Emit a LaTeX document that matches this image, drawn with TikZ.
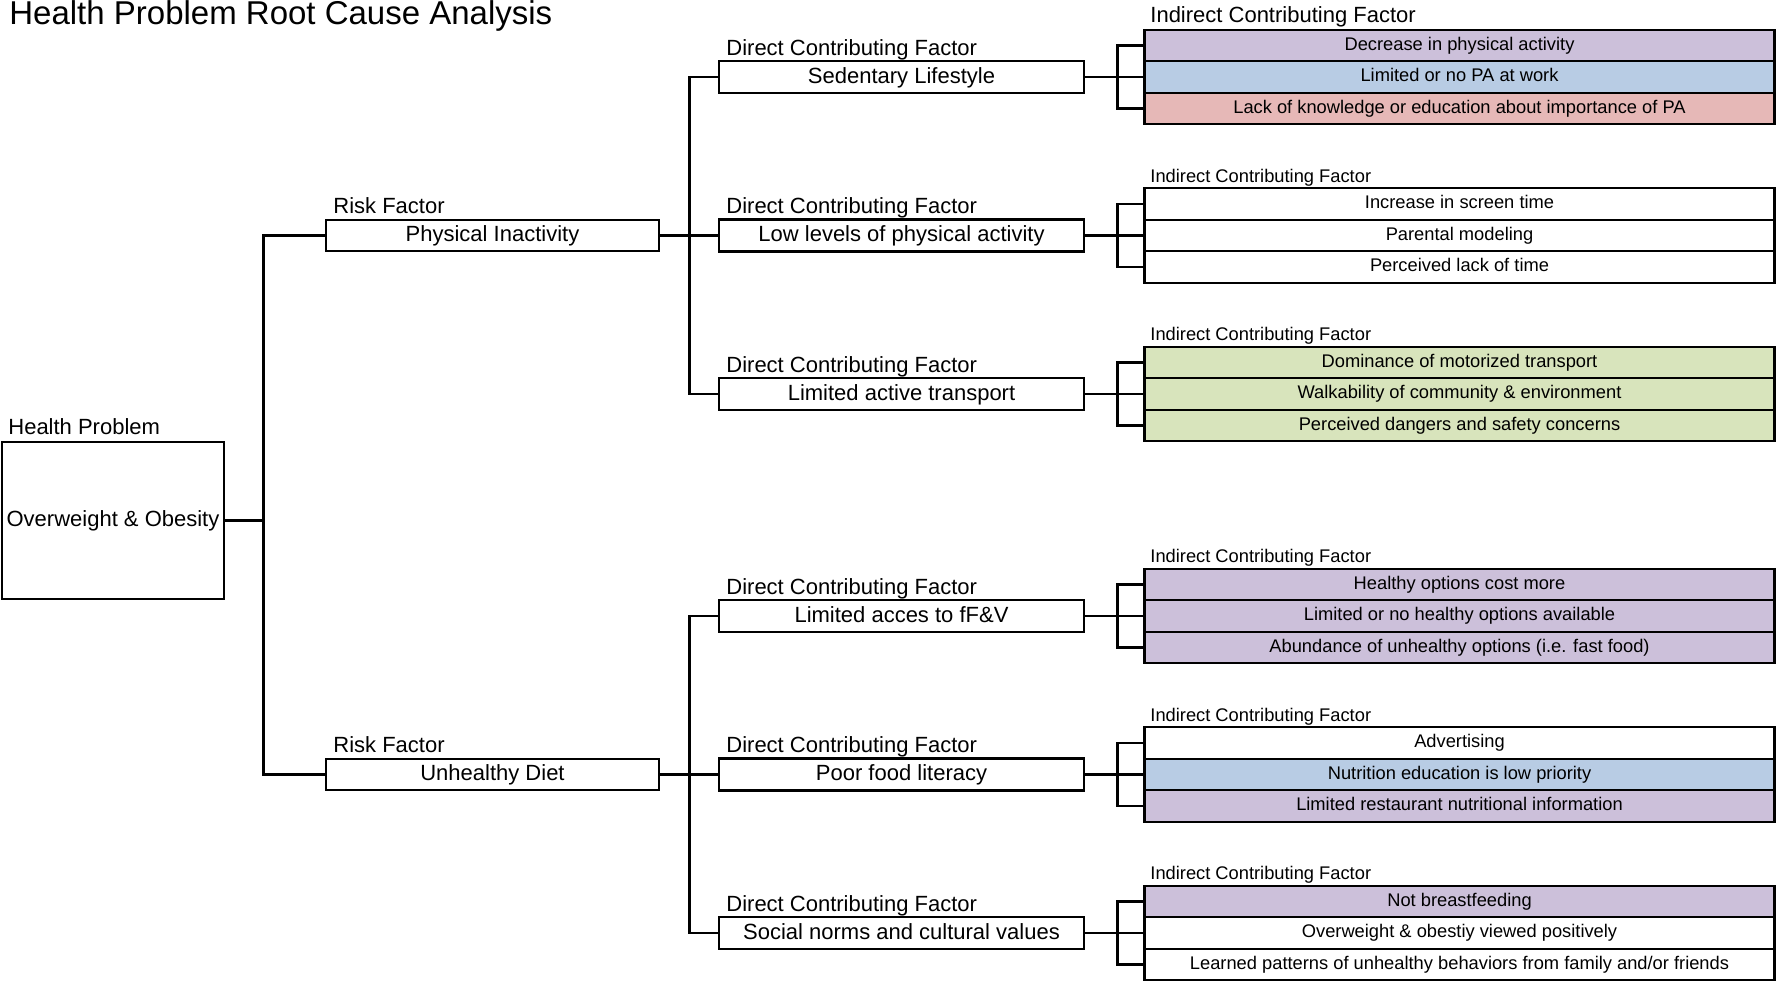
\documentclass[tikz,border=0pt]{standalone}
\usepackage{fontspec}
\setmainfont{Liberation Sans}
\definecolor{lav}{RGB}{204,192,218}
\definecolor{ltblue}{RGB}{184,204,228}
\definecolor{ltred}{RGB}{230,184,183}
\definecolor{ltgreen}{RGB}{216,228,188}

\begin{document}
\begin{tikzpicture}[x=1pt,y=-1pt,line width=2.8pt]
\tikzstyle{big}=[font=\fontsize{22}{26}\selectfont]
\tikzstyle{sml}=[font=\fontsize{18.3}{22}\selectfont]
\tikzstyle{lbl}=[anchor=base west,inner sep=0pt]
\tikzstyle{box}=[draw,line width=2.4pt,inner sep=0pt,big,text height=15.8pt,text depth=3.6pt]
\tikzstyle{rfbox}=[box,minimum width=333pt,minimum height=31pt]
\tikzstyle{dfbox}=[box,minimum width=365pt,minimum height=32pt]
\tikzstyle{ifbox}=[draw,line width=2.4pt,inner sep=0pt,sml,text height=13.1pt,text depth=3.8pt,minimum width=630pt,minimum height=31.5pt]
\useasboundingbox (0,0) rectangle (1777,980);

\node[lbl,font=\fontsize{33}{38}\selectfont] (ttl) at (8,24) {Health Problem Root Cause Analysis};

\node[lbl,big] (hpl) at (7,434) {Health Problem};
\node[box,minimum width=222pt,minimum height=157pt] (hp) at (113,520.5) {Overweight \& Obesity};

\node[lbl,big] (pil) at (332,213.5) {Risk Factor};
\node[rfbox] (pi) at (492.5,235.5) {Physical Inactivity};
\node[lbl,big] (udl) at (332,752.5) {Risk Factor};
\node[rfbox] (ud) at (492.5,774.5) {Unhealthy Diet};

\node[lbl,big] (sll) at (725,55) {Direct Contributing Factor};
\node[dfbox] (sl) at (901.5,77) {Sedentary Lifestyle};
\node[lbl,big] (lll) at (725,213.5) {Direct Contributing Factor};
\node[dfbox] (ll) at (901.5,235.5) {Low levels of physical activity};
\node[lbl,big] (atl) at (725,372) {Direct Contributing Factor};
\node[dfbox] (at) at (901.5,394) {Limited active transport};
\node[lbl,big] (fvl) at (725,594) {Direct Contributing Factor};
\node[dfbox] (fv) at (901.5,616) {Limited acces to fF\&V};
\node[lbl,big] (fll) at (725,752.5) {Direct Contributing Factor};
\node[dfbox] (fl) at (901.5,774.5) {Poor food literacy};
\node[lbl,big] (snl) at (725,911) {Direct Contributing Factor};
\node[dfbox] (sn) at (901.5,933) {Social norms and cultural values};

\node[lbl,big] (isl) at (1149,22) {Indirect Contributing Factor};
\node[ifbox,fill=lav] (sl1) at (1459.5,45.5) {Decrease in physical activity};
\node[ifbox,fill=ltblue] (sl2) at (1459.5,77) {Limited or no PA at work};
\node[ifbox,fill=ltred] (sl3) at (1459.5,108.5) {Lack of knowledge or education about importance of PA};

\node[lbl,sml] (ill) at (1149,182) {Indirect Contributing Factor};
\node[ifbox] (ll1) at (1459.5,204) {Increase in screen time};
\node[ifbox] (ll2) at (1459.5,235.5) {Parental modeling};
\node[ifbox] (ll3) at (1459.5,267) {Perceived lack of time};

\node[lbl,sml] (ial) at (1149,340.5) {Indirect Contributing Factor};
\node[ifbox,fill=ltgreen] (at1) at (1459.5,362.5) {Dominance of motorized transport};
\node[ifbox,fill=ltgreen] (at2) at (1459.5,394) {Walkability of community \& environment};
\node[ifbox,fill=ltgreen] (at3) at (1459.5,425.5) {Perceived dangers and safety concerns};

\node[lbl,sml] (ifl) at (1149,562.5) {Indirect Contributing Factor};
\node[ifbox,fill=lav] (fv1) at (1459.5,584.5) {Healthy options cost more};
\node[ifbox,fill=lav] (fv2) at (1459.5,616) {Limited or no healthy options available};
\node[ifbox,fill=lav] (fv3) at (1459.5,647.5) {Abundance of unhealthy options (i.e. fast food)};

\node[lbl,sml] (iol) at (1149,721) {Indirect Contributing Factor};
\node[ifbox] (fl1) at (1459.5,743) {Advertising};
\node[ifbox,fill=ltblue] (fl2) at (1459.5,774.5) {Nutrition education is low priority};
\node[ifbox,fill=lav] (fl3) at (1459.5,806) {Limited restaurant nutritional information};

\node[lbl,sml] (inl) at (1149,879.5) {Indirect Contributing Factor};
\node[ifbox,fill=lav] (sn1) at (1459.5,901.5) {Not breastfeeding};
\node[ifbox] (sn2) at (1459.5,933) {Overweight \& obestiy viewed positively};
\node[ifbox] (sn3) at (1459.5,964.5) {Learned patterns of unhealthy behaviors from family and/or friends};

\draw (hp.east) -- ++(38,0) |- (pi.west);
\draw (hp.east) -- ++(38,0) |- (ud.west);
\draw (pi.east) -- ++(29,0) |- (sl.west);
\draw (pi.east) -- ++(29,0) |- (ll.west);
\draw (pi.east) -- ++(29,0) |- (at.west);
\draw (ud.east) -- ++(29,0) |- (fv.west);
\draw (ud.east) -- ++(29,0) |- (fl.west);
\draw (ud.east) -- ++(29,0) |- (sn.west);
\draw (sl.east) -- ++(32,0) |- (sl1.west) (sl.east) -- (sl2.west) (sl.east) ++(32,0) |- (sl3.west);
\draw (ll.east) -- ++(32,0) |- (ll1.west) (ll.east) -- (ll2.west) (ll.east) ++(32,0) |- (ll3.west);
\draw (at.east) -- ++(32,0) |- (at1.west) (at.east) -- (at2.west) (at.east) ++(32,0) |- (at3.west);
\draw (fv.east) -- ++(32,0) |- (fv1.west) (fv.east) -- (fv2.west) (fv.east) ++(32,0) |- (fv3.west);
\draw (fl.east) -- ++(32,0) |- (fl1.west) (fl.east) -- (fl2.west) (fl.east) ++(32,0) |- (fl3.west);
\draw (sn.east) -- ++(32,0) |- (sn1.west) (sn.east) -- (sn2.west) (sn.east) ++(32,0) |- (sn3.west);
\end{tikzpicture}
\end{document}
